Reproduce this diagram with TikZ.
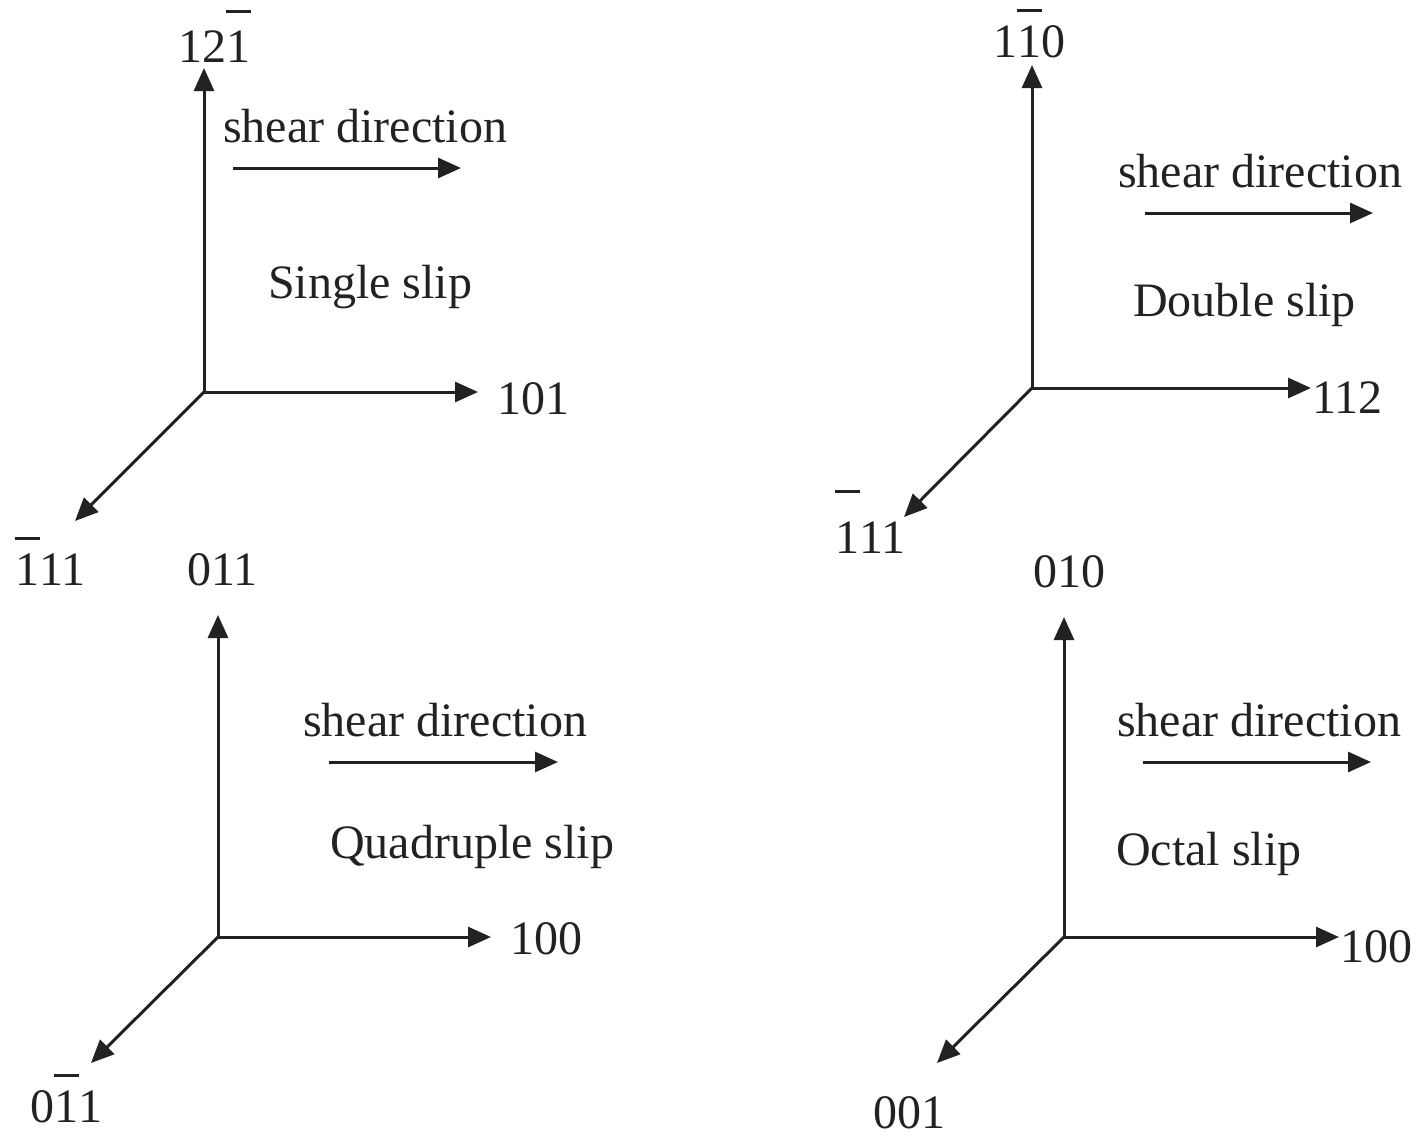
\documentclass[tikz,border=0pt]{standalone}
\usepackage{fontspec}
\setmainfont{Liberation Serif}
\usetikzlibrary{arrows.meta}
\newcommand{\obar}[2][0.93em]{\ooalign{#2\cr\hidewidth\rule[#1]{0.52em}{0.06em}\hidewidth\cr}}
\definecolor{ink}{HTML}{222222}
\tikzset{
  lbl/.style={anchor=base west,inner sep=0pt,text=ink,font=\fontsize{48}{56}\selectfont},
  axis/.style={draw=ink,line width=3pt,-{Triangle[length=23pt,width=20pt]}},
}
\begin{document}
\begin{tikzpicture}[x=1pt,y=-1pt]
\useasboundingbox (0,0) rectangle (1425,1136);
% Panel 1
\coordinate (o1) at (204,392);
\coordinate (u1) at (204,68);
\coordinate (r1) at (478,392);
\coordinate (d1) at (75,521);
\coordinate (s1a) at (233,168);
\coordinate (s1b) at (461,168);
\draw[axis] (o1) -- (u1);
\draw[axis] (o1) -- (r1);
\draw[axis] (o1) -- (d1);
\draw[axis] (s1a) -- (s1b);
\node[lbl] (l1u) at (178,62) {12\obar[1.02em]{1}};
\node[lbl] (l1r) at (497,414) {101};
\node[lbl] (l1d) at (15,585) {\obar{1}11};
\node[lbl] (l1s) at (223,142) {shear direction};
\node[lbl] (l1t) at (268,298) {Single slip};
% Panel 2
\coordinate (o2) at (1032,388);
\coordinate (u2) at (1032,65);
\coordinate (r2) at (1311,388);
\coordinate (d2) at (904,517);
\coordinate (s2a) at (1145,213);
\coordinate (s2b) at (1373,213);
\draw[axis] (o2) -- (u2);
\draw[axis] (o2) -- (r2);
\draw[axis] (o2) -- (d2);
\draw[axis] (s2a) -- (s2b);
\node[lbl] (l2u) at (993,57) {1\obar{1}0};
\node[lbl] (l2r) at (1312,413) {112};
\node[lbl] (l2d) at (835,553) {\obar[1.25em]{1}11};
\node[lbl] (l2s) at (1118,187) {shear direction};
\node[lbl] (l2t) at (1133,316) {Double slip};
% Panel 3
\coordinate (o3) at (218,937);
\coordinate (u3) at (218,615);
\coordinate (r3) at (491,937);
\coordinate (d3) at (91,1063);
\coordinate (s3a) at (329,762);
\coordinate (s3b) at (558,762);
\draw[axis] (o3) -- (u3);
\draw[axis] (o3) -- (r3);
\draw[axis] (o3) -- (d3);
\draw[axis] (s3a) -- (s3b);
\node[lbl] (l3u) at (187,585) {011};
\node[lbl] (l3r) at (510,954) {100};
\node[lbl] (l3d) at (30,1122) {0\obar{1}1};
\node[lbl] (l3s) at (303,736) {shear direction};
\node[lbl] (l3t) at (330,858) {Quadruple slip};
% Panel 4
\coordinate (o4) at (1064,937);
\coordinate (u4) at (1064,617);
\coordinate (r4) at (1339,937);
\coordinate (d4) at (937,1063);
\coordinate (s4a) at (1143,762);
\coordinate (s4b) at (1371,762);
\draw[axis] (o4) -- (u4);
\draw[axis] (o4) -- (r4);
\draw[axis] (o4) -- (d4);
\draw[axis] (s4a) -- (s4b);
\node[lbl] (l4u) at (1033,587) {010};
\node[lbl] (l4r) at (1340,962) {100};
\node[lbl] (l4d) at (873,1128) {001};
\node[lbl] (l4s) at (1117,736) {shear direction};
\node[lbl] (l4t) at (1116,865) {Octal slip};
\end{tikzpicture}
\end{document}
